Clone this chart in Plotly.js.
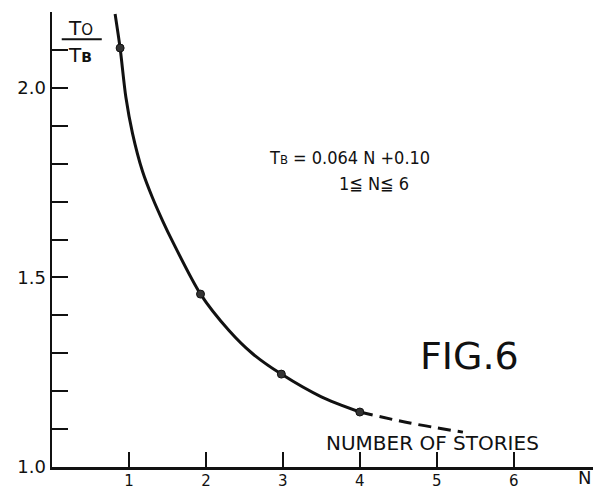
<!DOCTYPE html>
<html>
<head>
<meta charset="utf-8">
<script src="https://cdn.plot.ly/plotly-3.0.1.min.js"></script>
<style>html,body{margin:0;padding:0;background:#fff;}#chart{width:599px;height:490px;}</style>
</head>
<body>
<div id="chart"></div>
<script>
// Solid part of the curve
const curveN = [0.82, 0.885, 0.96, 1.046, 1.176, 1.306, 1.436, 1.566, 1.93, 2.30, 2.60, 2.98, 3.50, 4.00];
const curveR = [2.195, 2.105, 1.975, 1.880, 1.780, 1.710, 1.650, 1.595, 1.456, 1.360, 1.300, 1.245, 1.185, 1.145];
// Dashed extrapolation
const dashN = [4.00, 4.65, 5.34];
const dashR = [1.145, 1.116, 1.092];
// Measured points
const pointN = [0.885, 1.93, 2.98, 4.00];
const pointR = [2.105, 1.456, 1.245, 1.145];
// Ticks
const xTickVals = [1, 2, 3, 4, 5, 6];
const xTickText = ["1", "2", "3", "4", "5", "6"];
const yTickVals = [1.0, 1.1, 1.2, 1.3, 1.4, 1.5, 1.6, 1.7, 1.8, 1.9, 2.0, 2.1, 2.2];
const yTickText = ["1.0", "", "", "", "", "1.5", "", "", "", "", "2.0", "", ""];

const font = "DejaVu Sans, sans-serif";
const fontC = "DejaVu Sans Condensed, DejaVu Sans, sans-serif";
const ink = "#111";

const traces = [
  {x: curveN, y: curveR, mode: "lines", line: {color: ink, width: 3, shape: "spline", smoothing: 0.8}, hoverinfo: "skip"},
  {x: dashN, y: dashR, mode: "lines", line: {color: ink, width: 3, dash: "13px,7px", shape: "spline"}, hoverinfo: "skip"},
  {x: pointN, y: pointR, mode: "markers", marker: {color: "#333", size: 8, line: {color: ink, width: 1}}, hoverinfo: "skip"}
];

const layout = {
  width: 599, height: 490,
  margin: {l: 52, r: 6, t: 12, b: 23, pad: 0},
  paper_bgcolor: "#fff", plot_bgcolor: "#fff",
  showlegend: false,
  xaxis: {
    range: [0, 7.03], showgrid: false, zeroline: false,
    showline: true, linecolor: ink, linewidth: 2.5,
    ticks: "inside", ticklen: 15, tickwidth: 2, tickcolor: ink,
    tickvals: xTickVals, ticktext: xTickText,
    tickfont: {family: font, size: 15, color: ink},
    ticklabelstandoff: -2
  },
  yaxis: {
    range: [1.0, 2.2], showgrid: false, zeroline: false,
    showline: true, linecolor: ink, linewidth: 2.5,
    ticks: "inside", ticklen: 16, tickwidth: 2, tickcolor: ink,
    tickvals: yTickVals, ticktext: yTickText,
    tickfont: {family: font, size: 18, color: ink}
  },
  annotations: [
    {xref: "paper", yref: "paper", x: 0.985, y: -0.024, xanchor: "center", yanchor: "middle", showarrow: false,
     text: "N", font: {family: font, size: 18, color: ink}},
    {xref: "x", yref: "y", x: 4.95, y: 1.063, xanchor: "center", yanchor: "middle", showarrow: false,
     text: "NUMBER OF STORIES", font: {family: font, size: 20, color: ink}},
    {xref: "x", yref: "y", x: 5.43, y: 1.293, xanchor: "center", yanchor: "middle", showarrow: false,
     text: "FIG.6", font: {family: font, size: 38, color: ink}},
    {xref: "x", yref: "y", x: 2.8, y: 1.815, xanchor: "left", yanchor: "middle", showarrow: false,
     text: "T<span style='font-size:13px'>B</span> = 0.064 N +0.10", font: {family: fontC, size: 18, color: ink}},
    {xref: "x", yref: "y", x: 3.70, y: 1.749, xanchor: "left", yanchor: "middle", showarrow: false,
     text: "1≦ N≦ 6", font: {family: fontC, size: 18, color: ink}},
    {xref: "paper", yref: "paper", x: 0.052, y: 0.965, xanchor: "center", yanchor: "middle", showarrow: false,
     text: "T<span style='font-size:15px'>O</span>", font: {family: font, size: 20, color: ink}},
    {xref: "paper", yref: "paper", x: 0.052, y: 0.905, xanchor: "center", yanchor: "middle", showarrow: false,
     text: "T<span style='font-size:14px'><b>B</b></span>", font: {family: font, size: 20, color: ink}}
  ],
  shapes: [
    {type: "line", xref: "paper", yref: "paper", x0: 0.018, x1: 0.092, y0: 0.94, y1: 0.94, line: {color: ink, width: 2}}
  ]
};

Plotly.newPlot("chart", traces, layout, {displayModeBar: false, staticPlot: true});
</script>
</body>
</html>
